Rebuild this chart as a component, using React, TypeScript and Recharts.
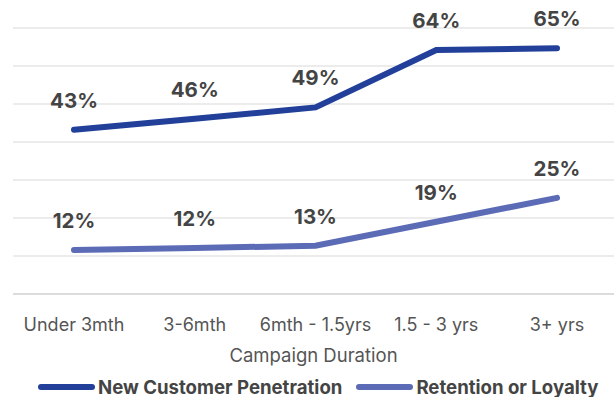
import React from 'react';
import { LineChart, Line, XAxis, YAxis, CartesianGrid, Legend, LabelList } from 'recharts';

const categories = ['Under 3mth', '3-6mth', '6mth - 1.5yrs', '1.5 - 3 yrs', '3+ yrs'];
const newCustomer = [43.2, 46.1, 49.1, 64.2, 64.7];
const retention = [11.6, 12.1, 12.7, 19.0, 25.3];
const yTicks = [0, 10, 20, 30, 40, 50, 60, 70];

const series = [
  { key: 'newCustomer', name: 'New Customer Penetration', color: '#22409a' },
  { key: 'retention', name: 'Retention or Loyalty', color: '#5c6bb6' },
];

const data = categories.map((c, i) => ({
  name: c,
  newCustomer: newCustomer[i],
  retention: retention[i],
}));

const font = 'Inter, "Noto Sans", sans-serif';

const LegendContent = () => (
  <div style={{ display: 'flex', alignItems: 'center', paddingLeft: 25, paddingTop: 13, fontFamily: font }}>
    {series.map((s, i) => (
      <div key={s.key} style={{ display: 'flex', alignItems: 'center', marginRight: i === 0 ? 14 : 0 }}>
        <div style={{ width: 57, height: 6, borderRadius: 3, background: s.color, marginRight: 3, flexShrink: 0 }} />
        <span style={{ fontSize: 18.6, lineHeight: '20px', fontWeight: 700, color: '#444', whiteSpace: 'nowrap' }}>{s.name}</span>
      </div>
    ))}
  </div>
);

export default function App() {
  return (
    <div style={{ position: 'absolute', left: 0, top: 0, width: 614, height: 397, background: '#fff' }}>
      <LineChart width={614} height={397} data={data} margin={{ top: 28, right: 0, left: 13, bottom: 0 }}>
        <CartesianGrid vertical={false} stroke="#ececec" strokeWidth={2} />
        <YAxis hide domain={[0, 70]} ticks={yTicks} />
        <XAxis
          dataKey="name"
          height={70}
          padding={{ left: 61, right: 57 }}
          tickLine={false}
          axisLine={{ stroke: '#dcdcdc', strokeWidth: 2 }}
          tick={{ fontSize: 18, fill: '#555', fontFamily: font }}
          tickMargin={18}
          interval={0}
          label={{ value: 'Campaign Duration', position: 'insideBottom', offset: 2, fontSize: 18.5, fill: '#555', fontFamily: font }}
        />
        <Legend verticalAlign="bottom" height={33} content={<LegendContent />} />
        {series.map((s) => (
          <Line
            key={s.key}
            type="linear"
            dataKey={s.key}
            name={s.name}
            stroke={s.color}
            strokeWidth={6}
            strokeLinecap="round"
            dot={false}
            activeDot={false}
            isAnimationActive={false}
          >
            <LabelList
              dataKey={s.key}
              position="top"
              offset={22}
              formatter={(v: number) => `${Math.round(v)}%`}
              style={{ fontSize: 20.5, fontWeight: 700, fill: '#444', fontFamily: font }}
            />
          </Line>
        ))}
      </LineChart>
    </div>
  );
}
